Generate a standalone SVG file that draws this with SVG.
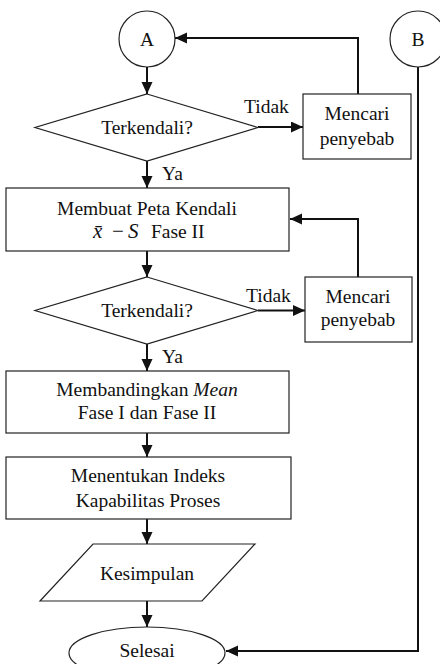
<svg xmlns="http://www.w3.org/2000/svg" width="440" height="664" viewBox="0 0 440 664">
<defs>
<style>
.s{fill:#fff;stroke:#222;stroke-width:1.2}
.t{font-family:"Liberation Serif","Times New Roman",serif;font-size:19.5px;fill:#111;text-anchor:middle}
.l{font-family:"Liberation Serif","Times New Roman",serif;font-size:19.5px;fill:#111}
.m{font-family:"Liberation Serif","Times New Roman",serif;font-size:21px;fill:#111}
.c{fill:none;stroke:#111;stroke-width:2}
</style>
<marker id="ah" markerUnits="userSpaceOnUse" markerWidth="13" markerHeight="12" refX="12" refY="5.5" orient="auto">
<path d="M0,0 L12,5.5 L0,11 z" fill="#111"/>
</marker>
</defs>
<rect width="440" height="664" fill="#fff"/>
<g id="connectors">
<path class="c" d="M147,67 V94" marker-end="url(#ah)"/>
<path class="c" d="M258,127 H303" marker-end="url(#ah)"/>
<path class="c" d="M358,94 V38 H175" marker-end="url(#ah)"/>
<path class="c" d="M147,161 V188" marker-end="url(#ah)"/>
<path class="c" d="M147,251 V277" marker-end="url(#ah)"/>
<path class="c" d="M258,310.5 H305" marker-end="url(#ah)"/>
<path class="c" d="M358,277 V219 H290" marker-end="url(#ah)"/>
<path class="c" d="M147,344 V371" marker-end="url(#ah)"/>
<path class="c" d="M147,433 V457" marker-end="url(#ah)"/>
<path class="c" d="M147,519 V544" marker-end="url(#ah)"/>
<path class="c" d="M147,601 V627" marker-end="url(#ah)"/>
<path class="c" d="M418,67 V651 H226" marker-end="url(#ah)"/>
<text class="l" x="244" y="113">Tidak</text>
<text class="l" x="162" y="180">Ya</text>
<text class="l" x="246" y="302">Tidak</text>
<text class="l" x="162" y="363">Ya</text>
</g>
<g id="nodeA">
<circle class="s" cx="147" cy="39" r="28"/>
<text class="t" x="147" y="45.5">A</text>
</g>
<g id="nodeB">
<circle class="s" cx="418" cy="39" r="28"/>
<text class="t" x="418" y="45.5">B</text>
</g>
<g id="decision1">
<polygon class="s" points="147,94 258,127.5 147,161 35,127.5"/>
<text class="t" x="147" y="133.5">Terkendali?</text>
</g>
<g id="cause1">
<rect class="s" x="303" y="94" width="108" height="65"/>
<text class="t" x="357" y="120">Mencari</text>
<text class="t" x="357" y="145">penyebab</text>
</g>
<g id="chart2">
<rect class="s" x="6" y="188" width="283" height="63"/>
<text class="t" x="147" y="215">Membuat Peta Kendali</text>
<text class="m" y="238"><tspan x="93" font-style="italic">x̄</tspan><tspan x="112">−</tspan><tspan x="128" font-style="italic">S</tspan></text>
<text class="l" x="151" y="238">Fase II</text>
</g>
<g id="decision2">
<polygon class="s" points="147,277 258,310.5 147,344 35,310.5"/>
<text class="t" x="147" y="317">Terkendali?</text>
</g>
<g id="cause2">
<rect class="s" x="305" y="277" width="107" height="65"/>
<text class="t" x="358" y="303">Mencari</text>
<text class="t" x="358" y="326">penyebab</text>
</g>
<g id="compare">
<rect class="s" x="6" y="371" width="283" height="62"/>
<text class="t" x="147" y="396">Membandingkan <tspan font-style="italic">Mean</tspan></text>
<text class="t" x="147" y="419">Fase I dan Fase II</text>
</g>
<g id="capability">
<rect class="s" x="6" y="457" width="285" height="62"/>
<text class="t" x="148" y="482">Menentukan Indeks</text>
<text class="t" x="148" y="507">Kapabilitas Proses</text>
</g>
<g id="conclusion">
<polygon class="s" points="93,544 255,544 202,601 40,601"/>
<text class="t" x="147" y="580">Kesimpulan</text>
</g>
<g id="end">
<ellipse class="s" cx="147" cy="653" rx="78" ry="26"/>
<text class="t" x="147" y="657">Selesai</text>
</g>
</svg>
